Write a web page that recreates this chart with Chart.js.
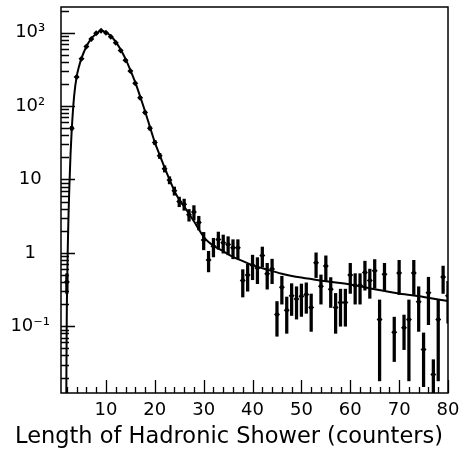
<!DOCTYPE html>
<html>
<head>
<meta charset="utf-8">
<script src="https://cdn.jsdelivr.net/npm/chart.js@4.4.0/dist/chart.umd.min.js"></script>
<style>
  html, body { margin: 0; padding: 0; background: #fff; }
  #wrap { width: 461px; height: 452px; position: relative; }
</style>
</head>
<body>
<div id="wrap"><canvas id="chart"></canvas></div>
<script>
// ── DATA ───────────────────────────────────────────────────────────────────
// shower length bins (counters) 2..80, bin 68 is empty
const binX = [
   2,  3,  4,  5,  6,  7,  8,  9, 10, 11, 12, 13, 14, 15, 16, 17, 18, 19, 20,
  21, 22, 23, 24, 25, 26, 27, 28, 29, 30, 31, 32, 33, 34, 35, 36, 37, 38, 39, 40,
  41, 42, 43, 44, 45, 46, 47, 48, 49, 50, 51, 52, 53, 54, 55, 56, 57, 58, 59, 60,
  61, 62, 63, 64, 65, 66, 67, 68, 69, 70, 71, 72, 73, 74, 75, 76, 77, 78, 79, 80
];
const binVal = [
  0.4, 50, 250, 440, 650, 820, 980, 1060, 1000, 880, 730, 570, 420, 300, 205, 130, 82, 50, 32,
  21, 14, 9.8, 7.0, 5.0, 4.6, 3.3, 3.6, 2.6, 1.5, 0.8, 1.23, 1.52, 1.37, 1.3, 1.17, 1.17, 0.42, 0.5, 0.68,
  0.62, 0.92, 0.52, 0.6, 0.145, 0.34, 0.165, 0.26, 0.235, 0.256, 0.27, 0.18, 0.73, 0.35, 0.66, 0.32, 0.18, 0.21, 0.21, 0.5,
  0.36, 0.36, 0.54, 0.42, 0.57, 0.123, 0.51, null, 0.083, 0.53, 0.095, 0.123, 0.53, 0.215, 0.048, 0.285, 0.022, 0.123, 0.47, 0.26
];
const binErr = [
  0.12, 3, 7, 9, 11, 12, 13, 14, 13, 12, 11, 10, 8, 7, 6, 4.5, 3.5, 2.7, 2.1,
  1.7, 1.4, 1.1, 0.9, 0.75, 0.8, 0.6, 0.8, 0.55, 0.4, 0.25, 0.35, 0.4, 0.38, 0.36, 0.34, 0.34, 0.17, 0.2, 0.25,
  0.24, 0.28, 0.2, 0.22, 0.072, 0.14, 0.085, 0.12, 0.11, 0.12, 0.12, 0.095, 0.27, 0.15, 0.25, 0.14, 0.1, 0.11, 0.11, 0.22,
  0.16, 0.16, 0.23, 0.18, 0.24, 0.105, 0.21, null, 0.05, 0.26, 0.047, 0.105, 0.26, 0.13, 0.033, 0.18, 0.013, 0.105, 0.19, 0.15
];

// fitted curve
const fitX = [1.88, 1.95, 2.0, 2.1, 2.2, 2.35, 2.5, 2.75, 3, 3.5, 4, 4.5, 5, 6, 7, 8, 9, 10, 11, 12, 13, 14, 15,
  16, 17, 18, 19, 20, 21, 22, 23, 24, 25, 26, 27, 28, 29, 30, 31, 32, 34, 36, 38, 40, 43, 46, 50, 55, 60, 65, 70, 75, 80];
const fitY = [0.01, 0.07, 0.2, 0.55, 1.3, 3.5, 7.5, 22, 48, 140, 250, 350, 450, 650, 830, 970, 1060, 1010, 900, 750, 590, 440, 310,
  210, 135, 85, 52, 32, 21.5, 14.5, 10, 7.0, 5.3, 4.3, 3.4, 2.7, 2.1, 1.65, 1.4, 1.25, 1.05, 0.88, 0.77, 0.68, 0.59, 0.52, 0.46, 0.41, 0.37, 0.32, 0.28, 0.25, 0.22];

const yTickVals = [0.1, 1, 10, 100, 1000];
const yTickText = ['10⁻¹', '1', '10', '10²', '10³'];

const FONT = "'DejaVu Sans', sans-serif";

// ── POINTS / ERROR BARS ───────────────────────────────────────────────────
const pts = [];
const errs = [];
binX.forEach((x, i) => {
  const v = binVal[i];
  if (v == null) return;
  pts.push({ x, y: v });
  errs.push({ x, y: [Math.max(v - binErr[i], 0.001), v + binErr[i]] });
});
const curve = fitX.map((x, i) => ({ x, y: fitY[i] }));

// frame + inward tick marks
const framePlugin = {
  id: 'frame',
  afterDatasetsDraw(chart) {
    const { ctx, chartArea: a, scales: { x, y } } = chart;
    ctx.save();
    ctx.strokeStyle = '#000';
    ctx.lineWidth = 1.5;
    ctx.strokeRect(a.left, a.top, a.right - a.left, a.bottom - a.top);
    ctx.lineWidth = 1.3;
    ctx.beginPath();
    for (let v = 2; v <= 80; v += 2) {
      const px = Math.round(x.getPixelForValue(v)) + 0.5;
      const len = v % 10 === 0 ? 13 : 6;
      ctx.moveTo(px, a.bottom); ctx.lineTo(px, a.bottom - len);
    }
    for (let k = -2; k <= 3; k++) {
      for (let m = 1; m <= 9; m++) {
        const v = m * Math.pow(10, k);
        if (v < y.min || v > y.max) continue;
        const py = Math.round(y.getPixelForValue(v)) + 0.5;
        const len = m === 1 ? 14 : 8;
        ctx.moveTo(a.left, py); ctx.lineTo(a.left + len, py);
      }
    }
    ctx.stroke();
    ctx.restore();
  }
};

new Chart(document.getElementById('chart'), {
  type: 'scatter',
  data: {
    datasets: [
      { type: 'bar', data: errs, backgroundColor: '#000', borderWidth: 0, barThickness: 2.6, grouped: false },
      { type: 'scatter', data: pts, pointStyle: 'rectRot', pointRadius: 3, backgroundColor: '#000', borderWidth: 0 },
      { type: 'line', data: curve, borderColor: '#000', borderWidth: 2, pointRadius: 0, fill: false,
        cubicInterpolationMode: 'monotone' }
    ]
  },
  options: {
    responsive: true, maintainAspectRatio: false, animation: false,
    layout: { padding: { top: 7, right: 13, left: 10, bottom: 0 } },
    plugins: {
      legend: { display: false }, tooltip: { enabled: false },
      title: { display: true, position: 'bottom', text: 'Length of Hadronic Shower (counters)',
        color: '#000', font: { family: FONT, size: 22.5, weight: 'normal' }, padding: { top: 3, bottom: 1 } }
    },
    scales: {
      x: {
        type: 'linear', min: 0.8, max: 80, offset: false,
        grid: { display: false, drawTicks: false }, border: { display: false },
        afterFit: s => { s.height = 28; s.paddingLeft = 0; s.paddingRight = 0; },
        ticks: { stepSize: 10, includeBounds: false, autoSkip: false, maxRotation: 0, padding: 7,
          color: '#000', font: { family: FONT, size: 18 }, callback: v => v }
      },
      y: {
        type: 'logarithmic', min: 0.0123, max: 2240,
        grid: { display: false, drawTicks: false }, border: { display: false },
        afterFit: s => { s.width = 51; s.paddingTop = 0; s.paddingBottom = 0; },
        ticks: { autoSkip: false, crossAlign: 'center', padding: 11, color: '#000',
          font: { family: FONT, size: 18 },
          callback: v => {
            const i = yTickVals.findIndex(t => Math.abs(Math.log10(v) - Math.log10(t)) < 1e-6);
            return i < 0 ? null : yTickText[i];
          } }
      }
    }
  },
  plugins: [framePlugin]
});
</script>
</body>
</html>
